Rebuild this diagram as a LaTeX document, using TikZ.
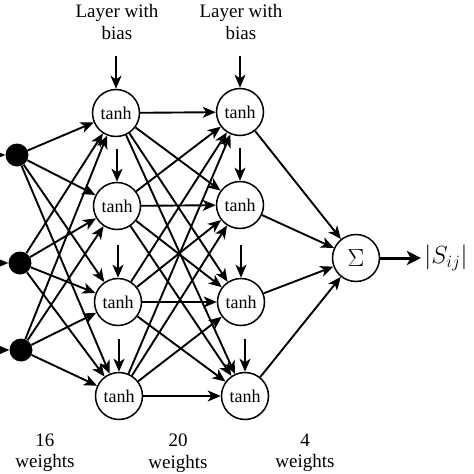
\documentclass[tikz,border=0pt]{standalone}
\usepackage{fontspec}
\setmainfont{Liberation Serif}
\usetikzlibrary{arrows.meta}
\begin{document}
\begin{tikzpicture}[x=1pt,y=-1pt,
  neuron/.style={circle,draw,line width=1.5pt,minimum size=47pt,inner sep=0pt,font=\fontsize{18}{20}\selectfont},
  inp/.style={circle,fill=black,minimum size=23pt,inner sep=0pt},
  conn/.style={line width=1.9pt,-{Stealth[length=13pt,width=11pt,inset=3.5pt]}},
  outarrow/.style={line width=3pt,-{Stealth[length=14pt,width=14pt,inset=3.5pt]}},
  lbl/.style={align=center,font=\fontsize{19}{21.5}\selectfont}]
\useasboundingbox (0,0) rectangle (474,474);
\clip (0,0) rectangle (474,474);
% input dots
\node[inp] (i1) at (17,155) {};
\node[inp] (i2) at (20,263) {};
\node[inp] (i3) at (21,350) {};
\coordinate (e1) at (-12,155);
\coordinate (e2) at (-12,263);
\coordinate (e3) at (-12,350);
% hidden layer 1
\node[neuron] (a1) at (116,113) {tanh};
\node[neuron] (a2) at (117,206) {tanh};
\node[neuron] (a3) at (118,302) {tanh};
\node[neuron] (a4) at (119,396) {tanh};
% hidden layer 2
\node[neuron] (b1) at (240,112) {tanh};
\node[neuron] (b2) at (240,205) {tanh};
\node[neuron] (b3) at (241,302) {tanh};
\node[neuron] (b4) at (245,396) {tanh};
% sum
\node[neuron,font=\fontsize{26}{28}\selectfont] (s) at (356,258) {$\Sigma$};
\node[font=\fontsize{25}{28}\selectfont] (out) at (446,258) {$\bigl|S_{ij}\bigr|$};
% bias start points
\coordinate (ba1) at (116,56);
\coordinate (ba2) at (117,149);
\coordinate (ba3) at (118,245);
\coordinate (ba4) at (119,339);
\coordinate (bb1) at (240,56);
\coordinate (bb2) at (240,148);
\coordinate (bb3) at (241,245);
\coordinate (bb4) at (245,339);
% labels
\node[lbl] (l1) at (117,22) {Layer with\\bias};
\node[lbl] (l2) at (241,22) {Layer with\\bias};
\node[lbl] (w1) at (45,453) {16\\weights};
\node[lbl] (w2) at (178,453) {20\\weights};
\node[lbl] (w3) at (305,453) {4\\weights};
% input arrows
\foreach \k in {1,2,3} \draw[conn] (e\k) -- (i\k);
% input to hidden 1
\foreach \k in {1,2,3}
  \foreach \j in {1,2,3,4}
    \draw[conn] (i\k) -- (a\j);
% hidden 1 to hidden 2
\foreach \k in {1,2,3,4}
  \foreach \j in {1,2,3,4}
    \draw[conn] (a\k) -- (b\j);
% hidden 2 to sum
\foreach \k in {1,2,3,4} \draw[conn] (b\k) -- (s);
% biases
\foreach \k in {1,2,3,4} {
  \draw[conn] (ba\k) -- (a\k);
  \draw[conn] (bb\k) -- (b\k);
}
% output
\draw[outarrow] (s) -- (out);
\end{tikzpicture}
\end{document}
